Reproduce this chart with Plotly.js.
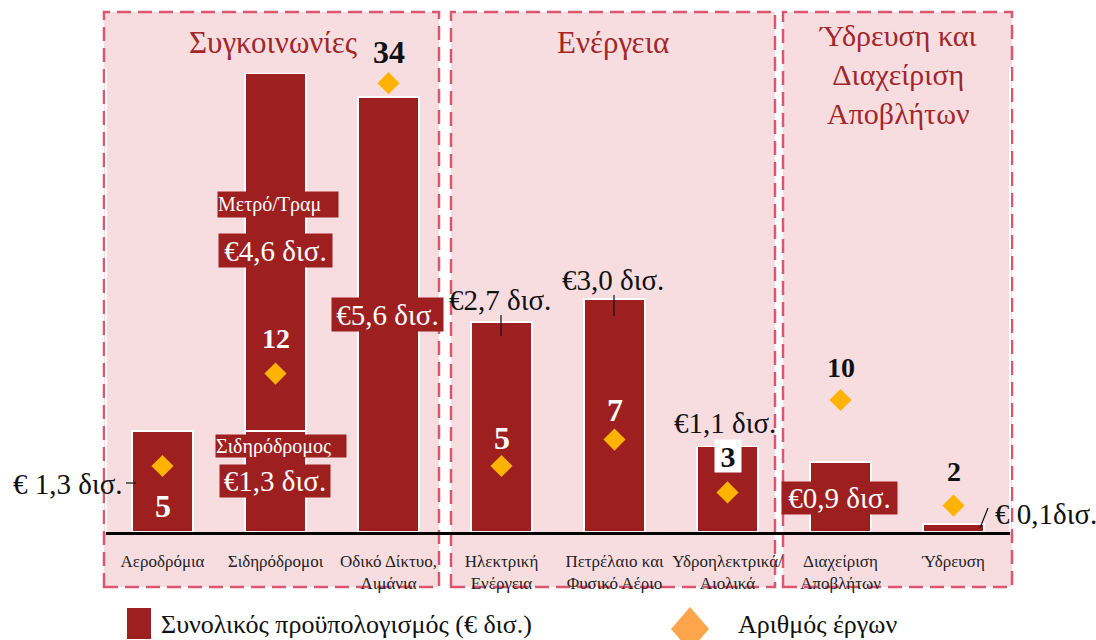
<!DOCTYPE html>
<html><head><meta charset="utf-8">
<script src="https://cdn.plot.ly/plotly-3.0.1.min.js"></script>
<style>html,body{margin:0;padding:0;background:#fff}#chart{width:1096px;height:640px}</style>
</head><body><div id="chart"></div>
<script>
// ---------- data ----------
const categories = ['Αεροδρόμια','Σιδηρόδρομοι','Οδικό Δίκτυο, Λιμάνια','Ηλεκτρική Ενέργεια','Πετρέλαιο και Φυσικό Αέριο','Υδροηλεκτρικά/ Αιολικά','Διαχείριση Αποβλήτων','Ύδρευση'];
const tickLabels = ['Αεροδρόμια','Σιδηρόδρομοι','Οδικό Δίκτυο,<br>Λιμάνια','Ηλεκτρική<br>Ενέργεια','Πετρέλαιο και<br>Φυσικό Αέριο','Υδροηλεκτρικά/<br>Αιολικά','Διαχείριση<br>Αποβλήτων','Ύδρευση'];
const budgetMain = [1.3, 1.3, 5.6, 2.7, 3.0, 1.1, 0.9, 0.1];
const budgetMetroTram = [0, 4.6, 0, 0, 0, 0, 0, 0];
const projects = [5, 12, 34, 5, 7, 3, 10, 2];
const sectors = ['Συγκοινωνίες', 'Ενέργεια', 'Ύδρευση και<br>Διαχείριση<br>Αποβλήτων'];
const budgetLabels = ['€ 1,3 δισ.', '€1,3 δισ.', '€5,6 δισ.', '€2,7 δισ.', '€3,0 δισ.', '€1,1 δισ.', '€0,9 δισ.', '€ 0,1δισ.'];
const metroLabel = '€4,6 δισ.';
const subLabels = ['Σιδηρόδρομος', 'Μετρό/Τραμ'];
const legendLabels = ['Συνολικός προϋπολογισμός (€ δισ.)', 'Αριθμός έργων'];

// ---------- geometry & style ----------
const W = 1096, H = 640, L = 106, R = 86, T = 0, B = 108;
const PW = W - L - R, PH = H - T - B;
const X = px => (px - L) / PW;
const Y = py => (H - B - py) / PH;
const FONT = '"Liberation Serif", "DejaVu Serif", serif';
const BAR = '#9E1F20';
const DIAMOND = '#FFB300';
const TITLE = '#A3262A';

const traces = [
  {type:'bar', x:categories, y:budgetMain, width:0.54, name:legendLabels[0],
   marker:{color:BAR, line:{color:'#ffffff', width:1.5}}, showlegend:false, hoverinfo:'x+y'},
  {type:'bar', x:categories, y:budgetMetroTram, width:0.54, name:subLabels[1],
   marker:{color:BAR, line:{color:'#ffffff', width:1.5}}, showlegend:false, hoverinfo:'x+y'},
  {type:'scatter', mode:'markers', x:categories, y:projects, yaxis:'y2', name:legendLabels[1],
   marker:{symbol:'diamond', size:17, color:DIAMOND}, showlegend:false, hoverinfo:'x+y'}
];

const shapes = [];
const panels = [[104,439],[451,775],[783,1012]];
panels.forEach(p => shapes.push({type:'rect', xref:'paper', yref:'paper', layer:'below',
  x0:X(p[0]), x1:X(p[1]), y0:Y(587), y1:Y(12),
  fillcolor:'#F8DDE0', line:{color:'#DC5670', width:2.5, dash:'14px,7px'}}));
[106,1010].forEach(x => shapes.push({type:'line', xref:'paper', yref:'paper', layer:'below',
  x0:X(x), x1:X(x), y0:Y(532), y1:Y(68), line:{color:'#ffffff', width:2}}));
const leaders = [[126,483,136,483],[501,315,501,336],[614,295,614,316],[980,528,988,508]];
leaders.forEach(s => shapes.push({type:'line', xref:'paper', yref:'paper',
  x0:X(s[0]), y0:Y(s[1]), x1:X(s[2]), y1:Y(s[3]), line:{color:'#111', width:1.2}}));
// legend marks
shapes.push({type:'rect', xref:'paper', yref:'paper', x0:X(127), x1:X(151), y0:Y(639), y1:Y(608),
  fillcolor:BAR, line:{width:0}});
shapes.push({type:'path', xref:'paper', yref:'paper',
  path:`M ${X(690)} ${Y(607)} L ${X(709)} ${Y(629)} L ${X(690)} ${Y(651)} L ${X(671)} ${Y(629)} Z`,
  fillcolor:'#FFA64D', line:{width:0}});

const ann = [];
const P = (px, py, o) => Object.assign({xref:'paper', yref:'paper', x:X(px), y:Y(py),
  xanchor:'center', yanchor:'middle', showarrow:false}, o);
// sector titles
ann.push(P(273, 42, {text:sectors[0], font:{family:FONT, size:31, color:TITLE}}));
ann.push(P(613, 42, {text:sectors[1], font:{family:FONT, size:31, color:TITLE}}));
ann.push(P(898, 74, {text:sectors[2], font:{family:FONT, size:30, color:TITLE}}));
// boxed white labels
const box = (px, py, w, h, text, size, align) => P(px, py, {text:text, width:w, height:h, bgcolor:BAR,
  borderpad:0, align:align || 'center', font:{family:FONT, size:size, color:'#ffffff'}});
ann.push(box(278, 204, 120, 25, subLabels[1], 20, 'left'));
ann.push(box(275.5, 250.5, 113, 33, metroLabel, 29));
ann.push(box(387.5, 314.5, 111, 33, budgetLabels[2], 29));
ann.push(box(281, 446, 130, 22, subLabels[0], 20, 'left'));
ann.push(box(275, 481, 110, 32, budgetLabels[1], 29));
ann.push(box(839.5, 498, 115, 32, budgetLabels[6], 29));
// black value labels
const blk = (px, py, text, o) => P(px, py, Object.assign({text:text, font:{family:FONT, size:29, color:'#111'}}, o||{}));
ann.push(blk(68, 484, budgetLabels[0]));
ann.push(blk(500, 300, budgetLabels[3]));
ann.push(blk(613, 280, budgetLabels[4]));
ann.push(blk(725, 423, budgetLabels[5]));
ann.push(blk(993, 514, budgetLabels[7], {xanchor:'left'}));
// project counts, anchored to the diamonds
const shifts = [-40, 35, 31, 28, 30, 36, 32, 34];
const numColors = ['#ffffff','#ffffff','#111','#ffffff','#ffffff','#111','#111','#111'];
const numSizes = [32, 28, 32, 32, 32, 30, 28, 28];
projects.forEach((v, i) => {
  const a = {xref:'x', yref:'y2', x:i, y:v, yshift:shifts[i], showarrow:false,
    text:'<b>' + v + '</b>', font:{family:FONT, size:numSizes[i], color:numColors[i]}};
  if (i === 5) { a.bgcolor = '#ffffff'; a.width = 26; a.height = 32; a.borderpad = 0; }
  ann.push(a);
});
// legend text
ann.push(P(159, 624, {text:legendLabels[0], xanchor:'left', font:{family:FONT, size:26, color:'#111'}}));
ann.push(P(736, 624, {text:legendLabels[1], xanchor:'left', font:{family:FONT, size:26, color:'#111'}}));

const layout = {
  width:W, height:H, margin:{l:L, r:R, t:T, b:B, pad:0},
  paper_bgcolor:'#ffffff', plot_bgcolor:'rgba(0,0,0,0)',
  barmode:'stack', showlegend:false,
  xaxis:{type:'category', range:[-0.5, 7.5], tickvals:categories, ticktext:tickLabels,
    showline:true, linecolor:'#000', linewidth:2.5, ticks:'', showgrid:false, zeroline:false,
    ticklabelstandoff:12, tickfont:{family:FONT, size:17, color:'#222'}, fixedrange:true},
  yaxis:{range:[0, 6.847], visible:false, showgrid:false, zeroline:false, fixedrange:true},
  yaxis2:{range:[0, 40.3], overlaying:'y', visible:false, showgrid:false, zeroline:false, fixedrange:true},
  shapes:shapes, annotations:ann
};
Plotly.newPlot('chart', traces, layout, {displayModeBar:false, staticPlot:true});
</script></body></html>
